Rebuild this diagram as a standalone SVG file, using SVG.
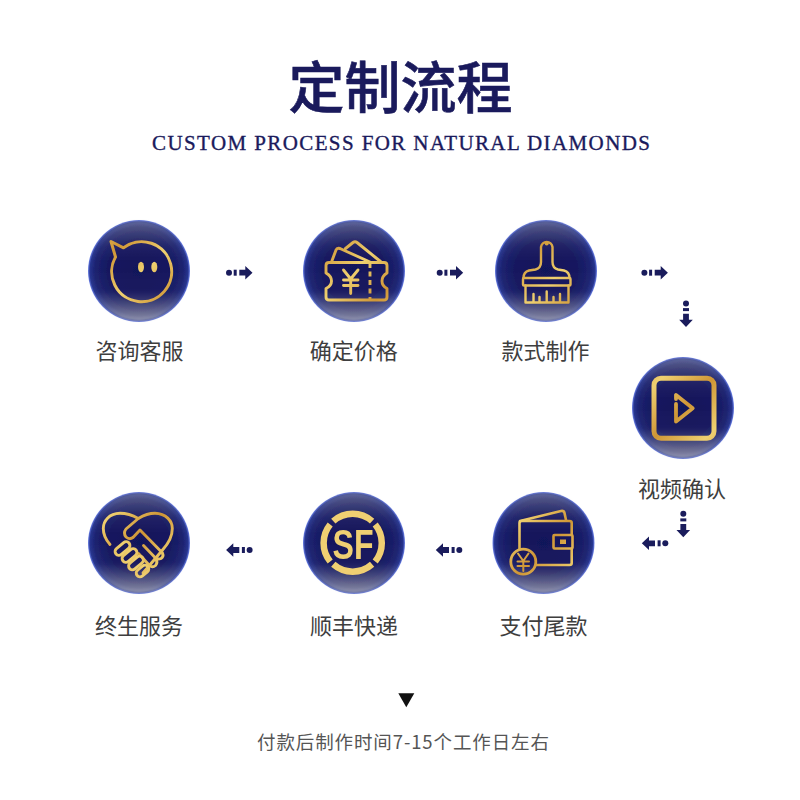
<svg xmlns="http://www.w3.org/2000/svg" width="800" height="800" viewBox="0 0 800 800">
<style>
.disc{fill:url(#disc)}
.sheen{fill:url(#sheen)}
.ic{fill:none;stroke:url(#gold);stroke-width:2.9;stroke-linejoin:round;stroke-linecap:round}
.fg{fill:url(#gold);stroke:none}
.lb{font-family:"Noto Sans CJK SC","Liberation Sans",sans-serif;font-size:22px;fill:#3e3e3e;text-anchor:middle}
.ar{fill:#1a1c5c}
.soft{filter:url(#soft)}
</style>
<defs>
<filter id="soft" x="-10%" y="-10%" width="120%" height="120%"><feGaussianBlur stdDeviation="0.45"/></filter>
<filter id="softer" x="-10%" y="-10%" width="120%" height="120%"><feGaussianBlur stdDeviation="0.9"/></filter>
<radialGradient id="disc" cx="50%" cy="50%" r="50%">
<stop offset="0" stop-color="#11135a"/><stop offset="0.6" stop-color="#15185f"/><stop offset="0.86" stop-color="#1c2270"/><stop offset="0.96" stop-color="#26348e"/><stop offset="1" stop-color="#6a80e8"/>
</radialGradient>
<linearGradient id="sheen" x1="0" y1="0" x2="0" y2="1">
<stop offset="0" stop-color="#c8c4b4" stop-opacity="0.36"/><stop offset="0.25" stop-color="#b0b0b0" stop-opacity="0.07"/><stop offset="0.42" stop-color="#888" stop-opacity="0"/><stop offset="0.7" stop-color="#b0b0b0" stop-opacity="0.03"/><stop offset="1" stop-color="#d8d4c4" stop-opacity="0.6"/>
</linearGradient>
<linearGradient id="gold" gradientUnits="userSpaceOnUse" x1="0" y1="0" x2="26" y2="26" spreadMethod="reflect">
<stop offset="0" stop-color="#efd070"/><stop offset="1" stop-color="#cf9636"/>
</linearGradient>
<g id="arrow" class="ar">
<circle cx="-10.3" cy="0" r="3"/>
<rect x="-5.6" y="-3" width="3" height="6"/>
<polygon points="0,-2.900 6,-2.900 6,-6.800 13.200,0 6,6.800 6,2.900 0,2.900"/>
</g>
<g id="base">
<circle class="disc" r="51" filter="url(#soft)"/>
<circle class="sheen" r="50" filter="url(#softer)"/>
</g>
</defs>
<rect width="800" height="800" fill="#fff"/>

<g id="title">
<text x="400.500" y="108" font-family="'Noto Sans CJK SC',sans-serif" font-size="56" font-weight="500" fill="#1a1a5c" stroke="#1a1a5c" stroke-width="0.6" text-anchor="middle">定制流程</text>
<text x="401" y="150" font-family="'Liberation Serif',serif" font-size="21" fill="#1a1a5c" stroke="#1a1a5c" stroke-width="0.35" text-anchor="middle" textLength="498">CUSTOM PROCESS FOR NATURAL DIAMONDS</text>
</g>

<g id="connectors">
<use href="#arrow" transform="translate(239.300 272.700)"/>
<use href="#arrow" transform="translate(450 272.700)"/>
<use href="#arrow" transform="translate(654.700 272.700)"/>
<use href="#arrow" transform="translate(686 313.700) rotate(90)"/>
<use href="#arrow" transform="translate(683.300 524) rotate(90)"/>
<use href="#arrow" transform="translate(655 543.300) rotate(180)"/>
<use href="#arrow" transform="translate(449 550) rotate(180)"/>
<use href="#arrow" transform="translate(239.300 550) rotate(180)"/>
</g>

<g id="node-consult">
<use href="#base" x="139" y="271"/>
<g class="soft">
<path class="ic" d="M115.500 257 A30 30 0 1 0 123.500 247.800 L111 241.500 Q113.500 250 115.500 257" style="stroke-width:3"/>
<ellipse class="fg" cx="141" cy="267" rx="3" ry="5.300"/>
<ellipse class="fg" cx="154.300" cy="267" rx="3" ry="5.300"/>
</g>
<text class="lb" x="139.500" y="358.500">咨询客服</text>
</g>

<g id="node-price">
<use href="#base" x="354" y="271"/>
<g class="soft">
<path class="ic" d="M329 262.500 H384 Q387 262.500 387 265.500 V273 Q382 276 382 281 Q382 286 387 288.500 V297 Q387 300 384 300 H329 Q326 300 326 297 V288.500 Q331.500 286 331.500 281 Q331.500 276 326 273 V265.500 Q326 262.500 329 262.500Z"/>
<path class="ic" d="M331.500 262 L336 250 Q337 247.500 340 248.500 L370 262"/>
<path class="ic" d="M345.500 248.500 L353 242.500 Q355 241 357 242.500 L380.500 261.500"/>
<path class="ic" d="M343.500 270 L350.700 279 L358 270 M343.500 280 H358 M343.500 285.500 H358 M350.700 279 V293.500"/>
<path class="ic" d="M370 263 V300" stroke-dasharray="5 3.500" style="stroke-linecap:butt"/>
</g>
<text class="lb" x="353.700" y="358.500">确定价格</text>
</g>

<g id="node-style">
<use href="#base" x="546" y="271"/>
<g class="soft">
<path class="ic" d="M541 262 V247 A5.800 5.800 0 0 1 552.500 247 V262 Q552.500 268 558 269.500 L564 270.500 Q569.500 272 569.500 278 M523.500 278 Q523.500 272 529 270.500 L535.500 269.500 Q541 268 541 262" style="stroke-width:2.400"/>
<circle class="fg" cx="546.700" cy="243.500" r="2"/>
<rect class="ic" x="523" y="278" width="47.500" height="7.500" rx="1" style="stroke-width:2.400"/>
<path class="ic" d="M525.500 285.500 V302.500 H568.500 V285.500 M533.500 302 V294 M539.500 302 V297 M546.700 302 V291.500 M553.500 302 V297 M560 302 V294" style="stroke-width:2.400"/>
</g>
<text class="lb" x="545.500" y="358.500">款式制作</text>
</g>

<g id="node-video">
<use href="#base" x="683" y="408"/>
<g class="soft">
<rect class="ic" x="654" y="378.300" width="60" height="60" rx="7" style="stroke-width:5"/>
<path class="ic" d="M676 404 V421.500 L692.700 408.300 L676 395 V399" style="stroke-width:3.800"/>
</g>
<text class="lb" x="682" y="496.500">视频确认</text>
</g>

<g id="node-pay">
<use href="#base" x="543.500" y="543"/>
<g class="soft">
<path class="ic" d="M519.500 549 V523 Q519.500 521 522 521 H569.500 Q571.700 521 571.700 523 V535 M571.700 548.500 V563 Q571.700 565 569.500 565 H536" style="stroke-width:2.600"/>
<path class="ic" d="M520 521 L561 511 Q564 510.500 564.500 513 L566 520" style="stroke-width:2.600"/>
<rect class="ic" x="553.500" y="535" width="19" height="13.500" rx="1" style="stroke-width:2.600"/>
<rect class="fg" x="560" y="539.500" width="6" height="4.500"/>
<circle class="ic" cx="523.300" cy="561.700" r="12.500" style="stroke-width:2.800"/>
<path class="ic" d="M518 553.500 L523.300 561 L528.500 553.500 M517.500 561.500 H529 M517.500 566 H529 M523.300 561 V571" style="stroke-width:2"/>
</g>
<text class="lb" x="543.500" y="634">支付尾款</text>
</g>

<g id="node-express">
<use href="#base" x="354" y="543"/>
<g class="soft">
<g fill="none" stroke="#efcf72" stroke-width="6.500">
<path d="M333.300 521.100 A29.300 29.300 0 0 1 372.100 521.100"/>
<path d="M333.300 564.300 A29.300 29.300 0 0 0 372.100 564.300"/>
<path d="M330.200 524.500 A29.300 29.300 0 0 0 330.200 561.500"/>
<path d="M375.200 524.500 A29.300 29.300 0 0 1 375.200 561.500"/>
</g>
<text x="353" y="558.500" font-family="'Liberation Sans',sans-serif" font-weight="700" font-size="43" fill="#efcf72" textLength="41" lengthAdjust="spacingAndGlyphs" text-anchor="middle">SF</text>
</g>
<text class="lb" x="354" y="634">顺丰快递</text>
</g>

<g id="node-service">
<use href="#base" x="139" y="543"/>
<g class="soft">
<path class="ic" d="M138.300 518.500 Q129 513.300 120 513.300 C109 513.500 103.300 521 103.300 528.500 C103.300 535 106 540 110 544.500 M138.300 518.500 Q147 513.300 155 513.300 C166 513.500 172.300 521 172.300 528.500 C172.300 537 168 544 162.500 550 L143 573"/>
<path class="ic" d="M138.300 518.500 L126 529 Q123 533 126 537 Q129.500 540 133 537.500 L140 530 L162.500 553 Q164 556.500 161 558.500 Q157.500 560 155 557.500 L143.500 545.500 M155 558 Q158.500 562 155.500 565.500 Q152.500 568 149.500 565.500 L138.500 553.500"/>
<g class="ic">
<rect x="-8.500" y="-3.800" width="17" height="7.600" rx="3.800" transform="translate(122.500 548.500) rotate(-40)"/>
<rect x="-8.500" y="-3.800" width="17" height="7.600" rx="3.800" transform="translate(129.500 555.500) rotate(-40)"/>
<rect x="-8.500" y="-3.800" width="17" height="7.600" rx="3.800" transform="translate(136 563) rotate(-40)"/>
<rect x="-7" y="-3.800" width="14" height="7.600" rx="3.800" transform="translate(142.500 571) rotate(-40)"/>
</g>
</g>
<text class="lb" x="139" y="634">终生服务</text>
</g>

<g id="footer">
<polygon points="398.300,693.300 414.300,693.300 406.300,707.300" fill="#111"/>
<text x="403" y="749" font-family="'Noto Sans CJK SC',sans-serif" font-size="18.500" fill="#555" text-anchor="middle" textLength="292">付款后制作时间7-15个工作日左右</text>
</g>
</svg>
